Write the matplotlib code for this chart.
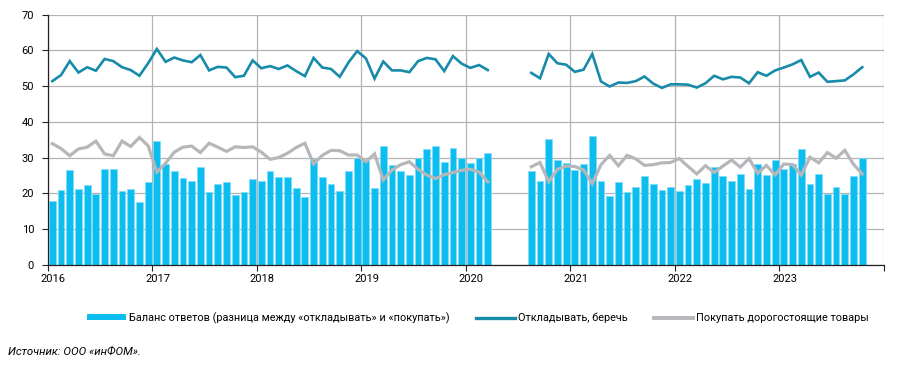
import numpy as np
import matplotlib.pyplot as plt
from matplotlib.patches import Patch
from matplotlib.lines import Line2D

plt.rcParams['font.family'] = ['Roboto', 'DejaVu Sans']

# помесячные данные, январь 2016 - октябрь 2023; апрель-июль 2020 нет опросов
nan = np.nan
balance = [
    17.7, 20.8, 26.4, 21.3, 22.3, 19.8, 26.7, 26.7, 20.5, 21.3, 17.5, 23.1,   # 2016
    34.6, 28.2, 26.2, 24.2, 23.5, 27.3, 20.3, 22.6, 23.2, 19.6, 20.3, 24.0,   # 2017
    23.5, 26.1, 24.6, 24.6, 21.4, 18.8, 29.5, 24.6, 22.6, 20.7, 26.2, 29.8,   # 2018
    29.3, 21.4, 33.2, 27.8, 26.3, 25.0, 30.0, 32.4, 33.2, 28.7, 32.6, 30.0,   # 2019
    28.5, 30.0, 31.3, nan, nan, nan, nan, 26.1, 23.4, 35.3, 29.3, 28.4,       # 2020
    26.6, 28.2, 36.1, 23.3, 19.3, 23.1, 20.3, 21.7, 24.9, 22.6, 20.8, 21.7,   # 2021
    20.6, 22.4, 24.1, 22.8, 27.4, 24.9, 23.3, 25.3, 21.1, 28.2, 25.2, 29.2,   # 2022
    26.9, 28.1, 32.3, 22.6, 25.3, 19.8, 21.7, 19.8, 24.8, 30.0,               # 2023
]
save = [
    51.4, 53.1, 57.0, 53.8, 55.3, 54.3, 57.6, 57.0, 55.3, 54.5, 52.9, 56.4,
    60.4, 56.8, 58.0, 57.2, 56.7, 58.7, 54.4, 55.4, 55.2, 52.5, 52.9, 57.2,
    55.0, 55.6, 54.8, 55.8, 54.2, 52.8, 57.9, 55.2, 54.8, 52.6, 56.6, 59.8,
    57.8, 52.1, 56.9, 54.4, 54.4, 53.9, 57.0, 57.9, 57.5, 54.2, 58.4, 56.3,
    55.1, 55.9, 54.5, nan, nan, nan, nan, 53.7, 52.2, 59.0, 56.4, 56.0,
    54.0, 54.6, 59.0, 51.3, 49.9, 51.0, 50.9, 51.4, 52.7, 50.7, 49.5, 50.5,
    50.5, 50.4, 49.6, 50.8, 52.9, 51.9, 52.6, 52.4, 50.8, 53.9, 52.9, 54.4,
    55.2, 56.1, 57.3, 52.6, 53.8, 51.2, 51.4, 51.6, 53.3, 55.3,
]
buy = [
    33.9, 32.5, 30.5, 32.4, 32.9, 34.6, 31.0, 30.5, 34.6, 33.1, 35.6, 33.3,
    25.9, 28.4, 31.5, 32.9, 33.2, 31.4, 34.0, 32.9, 31.7, 33.0, 32.8, 33.0,
    31.5, 29.5, 30.0, 31.2, 32.8, 34.0, 28.2, 30.6, 32.0, 31.9, 30.7, 30.7,
    28.8, 31.0, 23.7, 26.5, 28.0, 28.8, 26.7, 25.1, 24.1, 25.2, 25.8, 26.4,
    26.7, 25.9, 23.2, nan, nan, nan, nan, 27.4, 28.6, 23.2, 26.7, 27.6,
    27.5, 26.5, 22.7, 28.0, 30.6, 27.7, 30.6, 29.6, 27.8, 28.0, 28.5, 28.6,
    29.7, 27.5, 25.4, 27.7, 25.8, 27.6, 29.3, 27.3, 29.7, 25.6, 27.8, 25.1,
    28.2, 28.0, 25.1, 30.1, 28.5, 31.4, 29.8, 32.0, 28.1, 25.4,
]
years = ['2016', '2017', '2018', '2019', '2020', '2021', '2022', '2023']

x = np.arange(len(balance)) + 0.5

fig = plt.figure(figsize=(8.97, 3.68), dpi=100)
ax = fig.add_axes([0.0535, 0.281, 0.932, 0.679])

bar_c = '#0cbdf0'
save_c = '#178ba9'
buy_c = '#b5b7ba'

ax.bar(x, balance, width=0.78, color=bar_c, edgecolor='#7fdcf7', linewidth=0.5, zorder=2)
ax.plot(x, buy, color=buy_c, lw=2.3, zorder=3, solid_joinstyle='miter')
ax.plot(x, save, color=save_c, lw=1.9, zorder=4, solid_joinstyle='miter')

ax.set_xlim(0, 96)
ax.set_ylim(0, 70)
ax.set_yticks(range(0, 71, 10))
ax.set_xticks(range(0, 97, 12))
ax.set_xticklabels([])
ax.set_xticks(np.arange(len(years)) * 12 + 0.6, minor=True)
ax.set_xticklabels(years, minor=True)
ax.tick_params(axis='x', which='minor', length=0, pad=7, labelsize=8)
ax.tick_params(axis='x', which='major', length=4, width=0.8, color='#222222')
ax.tick_params(axis='y', length=4, width=0.8, pad=6, labelsize=8, color='#222222')

ax.grid(True, which='major', color='#b4b4b4', lw=0.9, zorder=0)
ax.set_axisbelow(True)
for s in ['top', 'right']:
    ax.spines[s].set_visible(False)
ax.spines['left'].set_color('#222222')
ax.spines['bottom'].set_color('#222222')
ax.spines['left'].set_linewidth(0.9)
ax.spines['bottom'].set_linewidth(0.9)

handles = [
    Patch(facecolor=bar_c, edgecolor='none'),
    Line2D([0], [0], color=save_c, lw=2.4),
    Line2D([0], [0], color=buy_c, lw=2.8),
]
labels = [
    'Баланс ответов (разница между «откладывать» и «покупать»)',
    'Откладывать, беречь',
    'Покупать дорогостоящие товары',
]
fig.legend(handles, labels, loc='center', bbox_to_anchor=(0.533, 0.136), ncol=3,
           frameon=False, fontsize=7.8, handlelength=3.6, handleheight=0.5,
           handletextpad=0.3, columnspacing=2.4)

fig.text(0.009, 0.03, 'Источник: ООО «инФОМ».', fontsize=8.2, style='italic',
         ha='left', va='bottom')

fig.savefig('out.png', dpi=100)
